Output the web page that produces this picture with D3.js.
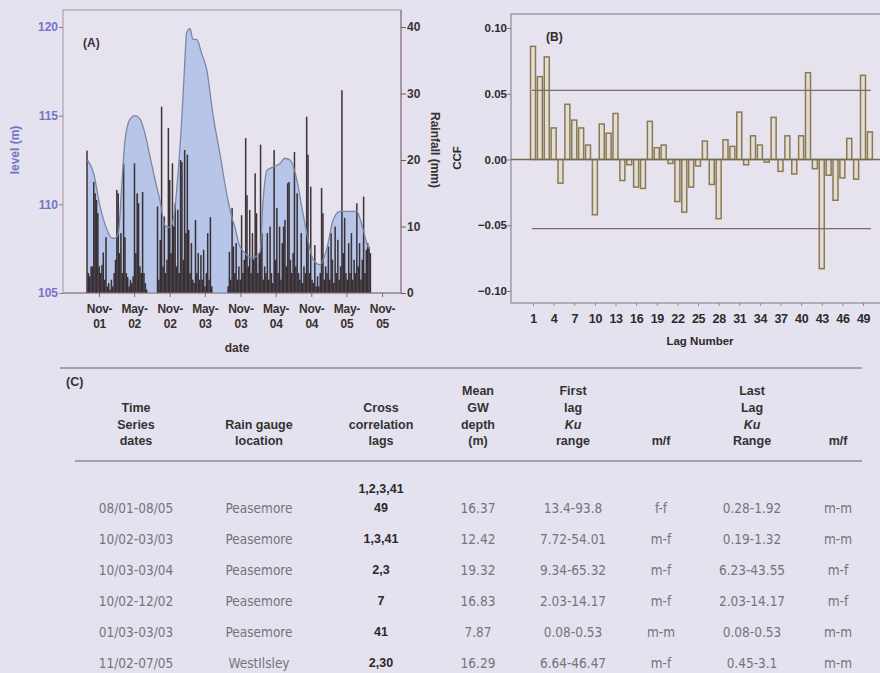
<!DOCTYPE html>
<html>
<head>
<meta charset="utf-8">
<script src="https://cdn.jsdelivr.net/npm/d3@7"></script>
<style>
  html, body { margin: 0; padding: 0; background: #e4e2ee; }
  svg { display: block; }
</style>
</head>
<body>
<svg id="fig" width="880" height="673"></svg>
<script>
// ---------------- Panel A: groundwater level and rainfall ----------------
const levelDates = [
  "2001-09-02","2001-10-03","2001-11-06","2001-12-11","2002-01-06","2002-01-23",
  "2002-02-09","2002-02-26","2002-03-15","2002-04-10","2002-05-06","2002-06-01",
  "2002-06-26","2002-07-22","2002-08-17","2002-09-12","2002-10-08","2002-11-03",
  "2002-11-28","2002-12-15","2002-12-31","2003-01-13","2003-01-28","2003-02-14",
  "2003-03-01","2003-03-20","2003-04-15","2003-05-11","2003-06-13","2003-07-19",
  "2003-08-22","2003-09-17","2003-10-04","2003-10-30","2004-01-05","2004-02-10",
  "2004-02-26","2004-03-16","2004-04-17","2004-05-23","2004-06-18","2004-07-14",
  "2004-08-18","2004-09-12","2004-10-08","2004-11-10","2004-12-16","2005-01-20",
  "2005-02-21","2005-03-29","2005-06-23","2005-07-26","2005-08-21","2005-08-31"
];
const levelValues = [
  112.5, 111.8, 109.9, 108.6, 108.1, 108.1,
  108.4, 111.0, 113.6, 114.8, 115.0, 114.8,
  114.0, 112.7, 111.4, 110.2, 108.8, 108.7,
  109.8, 111.9, 114.4, 117.0, 119.7, 119.9,
  119.3, 119.3, 118.5, 117.6, 115.0, 112.8,
  110.6, 109.3, 108.7, 107.6, 107.0, 107.3,
  110.2, 111.9, 112.1, 112.3, 112.6, 112.5,
  111.4, 109.9, 108.4, 106.9, 106.6, 107.5,
  109.1, 109.6, 109.6, 108.6, 107.6, 107.5
];

// weekly rainfall totals (mm) from the start date below
const rainStart = "2001-08-31";
const rainStepDays = 7;
const rainValues = [
  21.4, 3, 2.5, 4, 4, 16.7, 15, 14, 12, 4,
  3, 4.2, 6.1, 2, 8.4, 1, 1.5, 0.5, 2, 1,
  3, 5, 15.5, 15, 6, 9, 3, 19.5, 8.4, 3,
  2.4, 1, 2, 1.5, 2.5, 19.5, 6, 15, 13.5, 4,
  3, 15.2, 3, 1.5, 0.5, 0, 0, 0, 0, 0,
  0, 0, 13, 2, 8, 28, 4, 11.5, 3, 5,
  24.8, 17, 6, 19.5, 10, 13.5, 4, 12.5, 3, 20,
  19.7, 5, 21.5, 9, 20.8, 9.5, 3, 7.5, 2, 1.5,
  11, 3, 6, 2, 5.7, 2, 6.5, 1, 3, 9,
  2, 11.4, 1, 0, 0, 0, 0, 0, 0, 0,
  0, 0, 0, 0, 1, 6.2, 2, 12.8, 7, 3,
  7.5, 2, 4, 2, 11.7, 3, 5, 23.3, 14.7, 4,
  12.5, 3, 9, 5, 18, 12, 3, 6, 22.3, 9,
  2, 4, 3, 9, 2, 10, 3, 1.5, 21.5, 5,
  12.8, 3, 10, 2, 7.5, 10, 11, 4, 16.5, 16.7,
  5, 3, 6, 21.2, 4, 15, 3, 2, 9, 1.5,
  4, 3, 26.5, 20.8, 3, 16, 2, 1.5, 7.2, 1,
  2.5, 1, 3, 15.8, 12, 2, 4, 3, 7, 2,
  9, 5, 1.5, 10, 3, 8, 2, 4, 30.5, 6,
  11.3, 3, 2, 7.5, 3, 9, 2, 5, 3, 13.5,
  4, 7.5, 2, 5, 14.5, 3, 6.5, 7.5, 7, 6
];

const dateTicks = ["2001-11-01","2002-05-01","2002-11-01","2003-05-01","2003-11-01",
                   "2004-05-01","2004-11-01","2005-05-01","2005-11-01"];
const dateTickLabels = [["Nov-","01"],["May-","02"],["Nov-","02"],["May-","03"],["Nov-","03"],
                        ["May-","04"],["Nov-","04"],["May-","05"],["Nov-","05"]];
const levelTicks = [105, 110, 115, 120];
const rainTicks = [0, 10, 20, 30, 40];

// ---------------- Panel B: cross-correlation function ----------------
const ccfValues = [
  0.086, 0.063, 0.078, 0.024, -0.018, 0.042, 0.030, 0.024, 0.011, -0.042,
  0.027, 0.020, 0.035, -0.016, -0.004, -0.021, -0.022, 0.029, 0.009, 0.011,
  -0.003, -0.032, -0.040, -0.021, -0.005, 0.014, -0.019, -0.045, 0.015, 0.010,
  0.036, -0.004, 0.018, 0.011, -0.002, 0.032, -0.009, 0.018, -0.011, 0.018,
  0.066, -0.007, -0.083, -0.012, -0.031, -0.014, 0.016, -0.015, 0.064, 0.021
];
const ccfLags = d3.range(1, ccfValues.length + 1);
const ccfLimit = 0.0525;
const lagTicks = [1, 4, 7, 10, 13, 16, 19, 22, 25, 28, 31, 34, 37, 40, 43, 46, 49];
const ccfTicks = [0.10, 0.05, 0.00, -0.05, -0.10];

// ---------------- Panel C: table ----------------
const tableHeaders = [
  ["Time", "Series", "dates"],
  ["Rain gauge", "location"],
  ["Cross", "correlation", "lags"],
  ["Mean", "GW", "depth", "(m)"],
  ["First", "lag", "Ku", "range"],
  ["m/f"],
  ["Last", "Lag", "Ku", "Range"],
  ["m/f"]
];
const seriesDates = ["08/01-08/05", "10/02-03/03", "10/03-03/04", "10/02-12/02", "01/03-03/03", "11/02-07/05"];
const gauges = ["Peasemore", "Peasemore", "Peasemore", "Peasemore", "Peasemore", "WestIlsley"];
const sigLags = [["1,2,3,41", "49"], ["1,3,41"], ["2,3"], ["7"], ["41"], ["2,30"]];
const meanDepth = ["16.37", "12.42", "19.32", "16.83", "7.87", "16.29"];
const firstKu = ["13.4-93.8", "7.72-54.01", "9.34-65.32", "2.03-14.17", "0.08-0.53", "6.64-46.47"];
const firstMF = ["f-f", "m-f", "m-f", "m-f", "m-m", "m-f"];
const lastKu = ["0.28-1.92", "0.19-1.32", "6.23-43.55", "2.03-14.17", "0.08-0.53", "0.45-3.1"];
const lastMF = ["m-m", "m-m", "m-f", "m-f", "m-m", "m-m"];

// ======================================================================
const svg = d3.select("#fig");
const FONT = "'Liberation Sans', Arial, Helvetica, sans-serif";
const NARROW = "'Liberation Sans Narrow', 'Arial Narrow', 'DejaVu Sans Condensed', sans-serif";
const parse = d3.utcParse("%Y-%m-%d");

svg.append("rect").attr("width", 880).attr("height", 673).attr("fill", "#e4e2ee");

// ---------- Panel A ----------
const A = { left: 63, right: 401, top: 10, bottom: 293 };
const xA = d3.scaleUtc()
  .domain([parse("2001-04-29"), parse("2006-02-07")])
  .range([A.left, A.right]);
const yLevel = d3.scaleLinear().domain([105, 120]).range([A.bottom, 27]);
const yRain = d3.scaleLinear().domain([0, 40]).range([A.bottom, 27]);

const gA = svg.append("g");
gA.append("rect")
  .attr("x", A.left).attr("y", A.top)
  .attr("width", A.right - A.left).attr("height", A.bottom - A.top)
  .attr("fill", "#e6e3ef").attr("stroke", "#b49eae").attr("stroke-width", 1.2);

const levelData = levelDates.map((d, i) => ({ date: parse(d), v: levelValues[i] }));
const area = d3.area()
  .x(d => xA(d.date)).y0(yLevel(105)).y1(d => yLevel(d.v))
  .curve(d3.curveMonotoneX);
const line = d3.line()
  .x(d => xA(d.date)).y(d => yLevel(d.v))
  .curve(d3.curveMonotoneX);

gA.append("path").datum(levelData).attr("d", area).attr("fill", "#b6c5e8");

const rainData = rainValues.map((v, i) => ({
  date: d3.utcDay.offset(parse(rainStart), i * rainStepDays), v
}));
gA.append("g").selectAll("rect").data(rainData.filter(d => d.v > 0)).join("rect")
  .attr("x", d => xA(d.date) - 0.75)
  .attr("width", 1.5)
  .attr("y", d => yRain(d.v))
  .attr("height", d => yRain(0) - yRain(d.v))
  .attr("fill", "#2a1f20")
  .attr("fill-opacity", 0.9);

gA.append("path").datum(levelData).attr("d", line)
  .attr("fill", "none").attr("stroke", "#7d87a6").attr("stroke-width", 1.3);

// left axis (level)
const axL = gA.append("g").attr("transform", `translate(${A.left},0)`)
  .call(d3.axisLeft(yLevel).tickValues(levelTicks).tickSize(4).tickFormat(d3.format("d")));
axL.select(".domain").remove();
axL.selectAll("line").attr("stroke", "#8a7c98");
axL.selectAll("text").attr("fill", "#7474c6").style("font", `bold 12px ${FONT}`).attr("x", -5);

// right axis (rainfall)
const axR = gA.append("g").attr("transform", `translate(${A.right},0)`)
  .call(d3.axisRight(yRain).tickValues(rainTicks).tickSize(5).tickFormat(d3.format("d")));
axR.select(".domain").attr("stroke", "#8a6e80").attr("d", `M0,${A.top}V${A.bottom}`);
axR.selectAll("line").attr("stroke", "#6e5a66");
axR.selectAll("text").attr("fill", "#3a3232").style("font", `bold 12px ${FONT}`).attr("x", 6);

// bottom axis (date)
const axB = gA.append("g").attr("transform", `translate(0,${A.bottom})`)
  .call(d3.axisBottom(xA).tickValues(dateTicks.map(parse)).tickSize(4).tickFormat(""));
axB.select(".domain").attr("stroke", "#8a7c88").attr("d", `M${A.left},0H${A.right}`);
axB.selectAll("line").attr("stroke", "#7a6c78");
axB.selectAll(".tick").each(function (d, i) {
  const t = d3.select(this).append("text")
    .attr("fill", "#3a3030").attr("text-anchor", "middle")
    .style("font", `bold 12px ${FONT}`).style("letter-spacing", "-0.3px");
  t.append("tspan").attr("x", 0).attr("y", 20).text(dateTickLabels[i][0]);
  t.append("tspan").attr("x", 0).attr("y", 35).text(dateTickLabels[i][1]);
});

gA.append("text").attr("x", 237).attr("y", 352).attr("text-anchor", "middle")
  .attr("fill", "#3a3030").style("font", `bold 12px ${FONT}`).text("date");
gA.append("text").attr("transform", "translate(19,150) rotate(-90)").attr("text-anchor", "middle")
  .attr("fill", "#7474c6").style("font", `bold 12px ${FONT}`).text("level (m)");
gA.append("text").attr("transform", "translate(431,150) rotate(90)").attr("text-anchor", "middle")
  .attr("fill", "#3a3030").style("font", `bold 12px ${FONT}`).text("Rainfall (mm)");
gA.append("text").attr("x", 83).attr("y", 47)
  .attr("fill", "#3a3030").style("font", `bold 12px ${FONT}`).text("(A)");

// ---------- Panel B ----------
const B = { left: 511, right: 884, top: 14, bottom: 303 };
const xB = d3.scaleLinear().domain([1, 49]).range([533, 863]);
const yB = d3.scaleLinear().domain([-0.1, 0.1]).range([291, 28]);

const gB = svg.append("g");
gB.append("rect")
  .attr("x", B.left).attr("y", B.top)
  .attr("width", B.right - B.left).attr("height", B.bottom - B.top)
  .attr("fill", "#e6e3ef").attr("stroke", "#8c8a94").attr("stroke-width", 1.2);

const barW = 5;
gB.append("g").selectAll("rect").data(ccfLags).join("rect")
  .attr("x", d => xB(d) - barW / 2)
  .attr("width", barW)
  .attr("y", (d, i) => yB(Math.max(0, ccfValues[i])))
  .attr("height", (d, i) => Math.abs(yB(ccfValues[i]) - yB(0)))
  .attr("fill", "#ddd2a4").attr("fill-opacity", 0.3)
  .attr("stroke", "#8a7a52").attr("stroke-width", 1.5);

// zero line
gB.append("line").attr("x1", B.left).attr("x2", B.right)
  .attr("y1", yB(0)).attr("y2", yB(0))
  .attr("stroke", "#7a6a4c").attr("stroke-width", 1.6);

// confidence limits
[ccfLimit, -ccfLimit].forEach(v => {
  gB.append("line")
    .attr("x1", xB(ccfLags[0]) - 1).attr("x2", xB(ccfLags[ccfLags.length - 1]) + 1)
    .attr("y1", yB(v)).attr("y2", yB(v))
    .attr("stroke", "#7a6e5e").attr("stroke-width", 1.2);
});

const byL = gB.append("g").attr("transform", `translate(${B.left},0)`)
  .call(d3.axisLeft(yB).tickValues(ccfTicks).tickSize(4).tickFormat(d3.format(".2f")));
byL.select(".domain").remove();
byL.selectAll("line").attr("stroke", "#7a7a84");
byL.selectAll("text").attr("fill", "#2e2a2a").style("font", `bold 11.5px ${FONT}`).attr("x", -4);

const bxB = gB.append("g").attr("transform", `translate(0,${B.bottom})`)
  .call(d3.axisBottom(xB).tickValues(lagTicks).tickSize(3).tickFormat(d3.format("d")));
bxB.select(".domain").remove();
bxB.selectAll("line").attr("stroke", "#8a8a94");
bxB.selectAll("text").attr("fill", "#2e2a2a").style("font", `bold 12.5px ${FONT}`)
  .style("letter-spacing", "-0.4px").attr("y", 11);

gB.append("text").attr("x", 700).attr("y", 345).attr("text-anchor", "middle")
  .attr("fill", "#2e2a2a").style("font", `bold 11.5px ${FONT}`).text("Lag Number");
gB.append("text").attr("transform", "translate(461,158) rotate(-90)").attr("text-anchor", "middle")
  .attr("fill", "#2e2a2a").style("font", `bold 11.5px ${FONT}`).text("CCF");
gB.append("text").attr("x", 546).attr("y", 41)
  .attr("fill", "#2e2a2a").style("font", `bold 12px ${FONT}`).text("(B)");

// ---------- Panel C (table) ----------
const gC = svg.append("g");
const colX = [136, 259, 381, 478, 573, 661, 752, 838];
const headerRowY = [391, 408, 425, 441];
const rowY = [508, 539, 570, 601, 632, 663];

gC.append("line").attr("x1", 60).attr("x2", 862).attr("y1", 368).attr("y2", 368)
  .attr("stroke", "#8e8c96").attr("stroke-width", 1.3);
gC.append("line").attr("x1", 75).attr("x2", 862).attr("y1", 461).attr("y2", 461)
  .attr("stroke", "#8e8c96").attr("stroke-width", 1.3);
gC.append("text").attr("x", 66).attr("y", 386)
  .attr("fill", "#333").style("font", `bold 12.5px ${FONT}`).text("(C)");

tableHeaders.forEach((lines, c) => {
  const offset = headerRowY.length - lines.length;
  lines.forEach((s, k) => {
    gC.append("text")
      .attr("x", colX[c]).attr("y", headerRowY[offset + k]).attr("dy", "0.35em")
      .attr("text-anchor", "middle").attr("fill", "#333")
      .style("font", `${s === "Ku" ? "italic " : ""}bold 12.5px ${FONT}`)
      .text(s);
  });
});

const plainCols = [seriesDates, gauges, null, meanDepth, firstKu, firstMF, lastKu, lastMF];
rowY.forEach((y, r) => {
  plainCols.forEach((col, c) => {
    if (!col) return;
    gC.append("text")
      .attr("x", colX[c]).attr("y", y).attr("dy", "0.35em")
      .attr("text-anchor", "middle").attr("fill", "#75737b")
      .style("font", `13.5px ${NARROW}`)
      .text(col[r]);
  });
  const lagLines = sigLags[r];
  lagLines.forEach((s, k) => {
    gC.append("text")
      .attr("x", colX[2]).attr("y", y - (lagLines.length - 1 - k) * 19).attr("dy", "0.35em")
      .attr("text-anchor", "middle").attr("fill", "#2a2828")
      .style("font", `bold 12.5px ${FONT}`)
      .text(s);
  });
});
</script>
</body>
</html>
